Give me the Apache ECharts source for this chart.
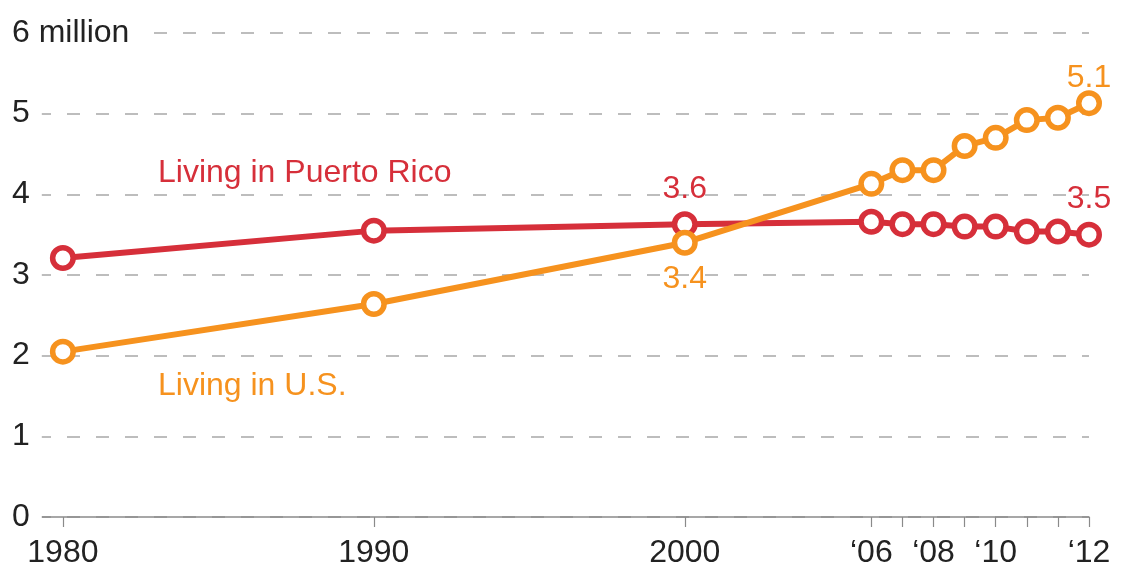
<!DOCTYPE html>
<html>
<head>
<meta charset="utf-8">
<script src="https://cdn.jsdelivr.net/npm/echarts@6/dist/echarts.min.js"></script>
<style>html,body{margin:0;padding:0;background:#fff}#c{width:1125px;height:566px}</style>
</head>
<body>
<div id="c"></div>
<script>
// Data (millions of Puerto Ricans)
const years = [1980, 1990, 2000, 2006, 2007, 2008, 2009, 2010, 2011, 2012, 2013];
const livingInPR = [3.21, 3.55, 3.63, 3.66, 3.63, 3.63, 3.60, 3.60, 3.54, 3.54, 3.50];
const livingInUS = [2.05, 2.64, 3.40, 4.13, 4.30, 4.30, 4.60, 4.70, 4.92, 4.95, 5.13];
const tickYears = [1980, 1990, 2000, 2006, 2007, 2008, 2009, 2010, 2011, 2012, 2013];
const labelYears = [1980, 1990, 2000, 2006, 2008, 2010, 2013];
const labelTexts = ['1980', '1990', '2000', '\u201806', '\u201808', '\u201810', '\u201812'];
const yTicks = [0, 1, 2, 3, 4, 5, 6];
const prLabelIdx = {2: {position: 'top', distance: 6}, 10: {position: 'top', distance: 6}};
const usLabelIdx = {2: {position: 'bottom', distance: 7}, 10: {position: 'top', distance: 1, offset: [0, 5]}};

const RED = '#d62f3a', ORANGE = '#f6921e';
const FONT = '"Liberation Sans", Arial, sans-serif';
const FS = 32;

function build(vals, idxMap, color) {
  return vals.map((v, i) => {
    const d = {value: [years[i], v]};
    if (idxMap[i]) {
      d.label = Object.assign({show: true, color: color, fontSize: FS, fontFamily: FONT,
        formatter: p => p.value[1].toFixed(1)}, idxMap[i]);
    }
    return d;
  });
}

const chart = echarts.init(document.getElementById('c'), null, {renderer: 'canvas'});
chart.setOption({
  animation: false,
  grid: {left: 38, right: 36, top: 33, bottom: 49, containLabel: false, outerBoundsMode: 'none'},
  xAxis: {
    type: 'value', min: 1979.2, max: 2013,
    splitLine: {show: false},
    axisLine: {show: true, lineStyle: {color: '#8a8a8a', width: 1.5}},
    axisTick: {show: true, customValues: tickYears, length: 10, lineStyle: {color: '#8a8a8a', width: 1.2}},
    axisLabel: {
      customValues: labelYears, margin: 20, fontSize: FS, fontFamily: FONT, color: '#222',
      showMinLabel: true, showMaxLabel: true,
      formatter: v => labelTexts[labelYears.indexOf(v)] || ''
    }
  },
  yAxis: {
    type: 'value', min: 0, max: 6, interval: 1,
    axisLine: {show: false}, axisTick: {show: false},
    splitLine: {show: true, lineStyle: {type: [13, 16], color: '#a8a8a8', width: 1.5}},
    axisLabel: {
      align: 'left', margin: 26, fontSize: FS, fontFamily: FONT, color: '#222',
      backgroundColor: '#fff', padding: [0, 12, 0, 0],
      formatter: v => v === yTicks[yTicks.length - 1] ? v + ' million' : String(v)
    }
  },
  series: [
    {
      type: 'line', data: build(livingInPR, prLabelIdx, RED),
      lineStyle: {color: RED, width: 6}, symbol: 'circle', symbolSize: 20.5,
      itemStyle: {color: '#fff', borderColor: RED, borderWidth: 5.5},
      z: 3
    },
    {
      type: 'line', data: build(livingInUS, usLabelIdx, ORANGE),
      lineStyle: {color: ORANGE, width: 6}, symbol: 'circle', symbolSize: 20.5,
      itemStyle: {color: '#fff', borderColor: ORANGE, borderWidth: 5.5},
      z: 4
    }
  ],
  graphic: [
    {type: 'text', left: 158, top: 157, style: {text: 'Living in Puerto Rico', fill: RED, fontSize: FS, fontFamily: FONT}},
    {type: 'text', left: 158, top: 370, style: {text: 'Living in U.S.', fill: ORANGE, fontSize: FS, fontFamily: FONT}}
  ]
});
</script>
</body>
</html>
